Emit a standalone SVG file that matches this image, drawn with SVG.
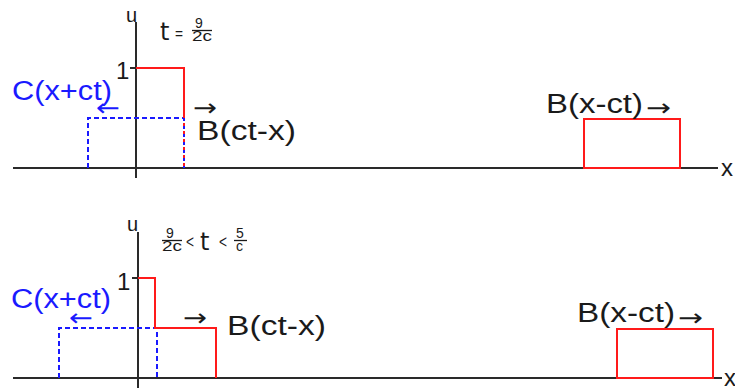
<svg xmlns="http://www.w3.org/2000/svg" width="735" height="390" viewBox="0 0 735 390">
<style>
.ax{stroke:#2a2a2a;stroke-width:2;fill:none}
.red{stroke:#ff1a1a;stroke-width:2;fill:none}
.blu{stroke:#1a1aff;stroke-width:2;fill:none;stroke-dasharray:5 3}
.bar{stroke:#1a1a1a;stroke-width:1.3}
text{font-family:"Liberation Sans",Arial,sans-serif;fill:#1a1a1a}
.big{font-size:27px}
.bl{fill:#1a1aff}
.sm{font-size:14px}
.arr{font-family:"DejaVu Sans",sans-serif;font-size:24px}
.lt{font-size:18px}
.tt{font-family:"DejaVu Sans",sans-serif;font-size:24px}
</style>
<rect width="735" height="390" fill="#fff"/>
<g id="panel-top">
<g id="axes-top">
<line class="ax" x1="13" y1="168" x2="718" y2="168"/>
<line class="ax" x1="136" y1="22" x2="136" y2="178"/>
<line class="ax" x1="130" y1="68" x2="140" y2="68"/>
<text x="126" y="22" font-size="20">u</text>
<text x="721" y="176" font-size="24">x</text>
<text x="116" y="79" font-size="24">1</text>
</g>
<g id="label-t-top">
<text x="160" y="40" class="tt">t</text>
<text x="175" y="39" font-size="16" textLength="8" lengthAdjust="spacingAndGlyphs">=</text>
<text x="195" y="28" class="sm">9</text>
<line class="bar" x1="192" y1="30.5" x2="212" y2="30.5"/>
<text x="192" y="41" class="sm" textLength="20" lengthAdjust="spacingAndGlyphs">2c</text>
</g>
<g id="pulse-C-top">
<path class="blu" d="M88 168 V118 H184 V168"/>
<text class="big bl" x="12" y="100" textLength="100" lengthAdjust="spacingAndGlyphs">C(x+ct)</text>
<text class="arr bl" x="96" y="116" textLength="24" lengthAdjust="spacingAndGlyphs">←</text>
</g>
<g id="pulse-B-left-top">
<path class="red" d="M136 68 H184 V118"/>
<path class="red" d="M184 118 V168" stroke-dasharray="3 5" stroke-dashoffset="-5"/>
<text class="arr" x="193" y="116" textLength="24" lengthAdjust="spacingAndGlyphs">→</text>
<text class="big" x="197" y="140" textLength="99" lengthAdjust="spacingAndGlyphs">B(ct-x)</text>
</g>
<g id="pulse-B-right-top">
<rect class="red" x="584" y="119" width="96" height="49"/>
<text class="big" x="546" y="113" textLength="97" lengthAdjust="spacingAndGlyphs">B(x-ct)</text>
<text class="arr" x="646" y="116" textLength="25" lengthAdjust="spacingAndGlyphs">→</text>
</g>
</g>
<g id="panel-bottom">
<g id="axes-bottom">
<line class="ax" x1="13" y1="378" x2="722" y2="378"/>
<line class="ax" x1="138" y1="232" x2="138" y2="388"/>
<line class="ax" x1="132" y1="278" x2="142" y2="278"/>
<text x="127" y="231" font-size="20">u</text>
<text x="724" y="386" font-size="24">x</text>
<text x="117" y="290" font-size="24">1</text>
</g>
<g id="label-t-bottom">
<text x="166" y="238" class="sm">9</text>
<line class="bar" x1="162" y1="240.5" x2="182" y2="240.5"/>
<text x="162" y="251" class="sm" textLength="20" lengthAdjust="spacingAndGlyphs">2c</text>
<text x="186" y="248" class="lt" textLength="8" lengthAdjust="spacingAndGlyphs">&lt;</text>
<text x="200" y="250" class="tt">t</text>
<text x="219" y="248" class="lt" textLength="8" lengthAdjust="spacingAndGlyphs">&lt;</text>
<text x="236" y="238" class="sm">5</text>
<line class="bar" x1="234" y1="240.5" x2="247" y2="240.5"/>
<text x="236" y="251" class="sm">c</text>
</g>
<g id="pulse-C-bottom">
<path class="blu" d="M59 378 V328 H157 V378"/>
<text class="big bl" x="11" y="308" textLength="100" lengthAdjust="spacingAndGlyphs">C(x+ct)</text>
<text class="arr bl" x="69" y="326" textLength="24" lengthAdjust="spacingAndGlyphs">←</text>
</g>
<g id="pulse-B-left-bottom">
<path class="red" d="M138 278 H155 V328 H216 V378"/>
<text class="arr" x="183" y="326" textLength="24" lengthAdjust="spacingAndGlyphs">→</text>
<text class="big" x="227" y="335" textLength="99" lengthAdjust="spacingAndGlyphs">B(ct-x)</text>
</g>
<g id="pulse-B-right-bottom">
<rect class="red" x="617" y="329" width="96" height="49"/>
<text class="big" x="577" y="322" textLength="98" lengthAdjust="spacingAndGlyphs">B(x-ct)</text>
<text class="arr" x="678" y="326" textLength="25" lengthAdjust="spacingAndGlyphs">→</text>
</g>
</g>
</svg>
